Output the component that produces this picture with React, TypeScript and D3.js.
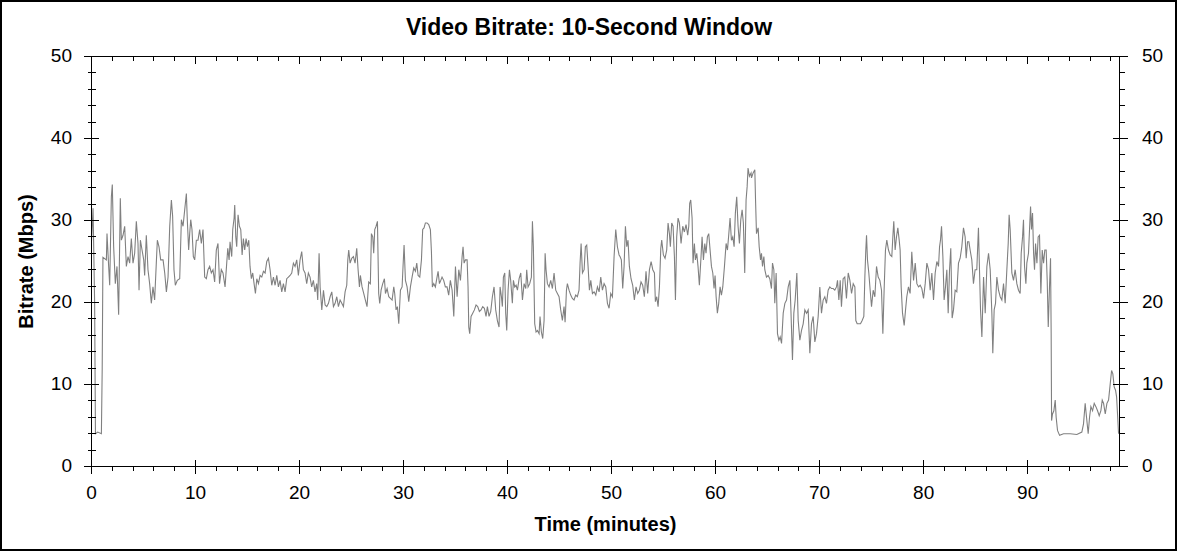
import React from 'react'
import * as d3 from 'd3'

// bitrate samples [minute, Mbps] in sections
const openingSection: [number, number][] = [
  [0, 27.5], [0.15, 31.5], [0.3, 20], [0.38, 4], [0.6, 4.2], [0.95, 4], [1.03, 12], [1.1, 25.5],
  [1.43, 25.2], [1.49, 28.4], [1.65, 24.4], [1.75, 22.1], [1.91, 32.9], [2.0, 34.4], [2.13, 26.8],
  [2.29, 22.3], [2.45, 24.4], [2.61, 18.5], [2.77, 32.7], [2.87, 27.6], [3.03, 28.2], [3.19, 29.3],
  [3.35, 24.4], [3.51, 25.6], [3.67, 24.8], [3.83, 27.8], [3.99, 24.8], [4.15, 26], [4.31, 29.9],
  [4.47, 27.2], [4.57, 21.5], [4.7, 27.6], [4.86, 26.4], [5.02, 25.2], [5.11, 23.3], [5.27, 28.2],
  [5.43, 24], [5.59, 22.3], [5.75, 19.9], [5.91, 21.9], [6.07, 20.3], [6.23, 24.8], [6.33, 27.6],
  [6.49, 26.8], [6.65, 25.2], [6.88, 25.2], [7.04, 23.6], [7.2, 21.3], [7.36, 23.1], [7.52, 29.3],
  [7.68, 32.5], [7.8, 30.5], [7.93, 24], [8.06, 22.1], [8.25, 22.7], [8.48, 22.9], [8.64, 30.1],
  [8.8, 29.3], [8.96, 31.3], [9.12, 33.3], [9.21, 30.1], [9.34, 26.4], [9.44, 28.4], [9.54, 30.1],
  [9.66, 28.9], [9.79, 25.6], [9.92, 25.2], [10.08, 27.6], [10.24, 27.6], [10.4, 28.9], [10.56, 27.2],
  [10.72, 28.9], [10.88, 23.1], [11.04, 22.9], [11.2, 24], [11.36, 24.4], [11.52, 23.6], [11.68, 24],
  [11.84, 22.5], [12.0, 26.4], [12.16, 27.2], [12.31, 22.3], [12.48, 24], [12.64, 23.6],
]

const section13to25: [number, number][] = [
  [12.84, 21.9], [13.0, 24.8], [13.1, 26.6], [13.23, 25.2], [13.32, 27.4], [13.48, 25.6], [13.58, 28.9],
  [13.71, 30.3], [13.77, 31.9], [13.87, 28], [13.96, 26.8], [14.09, 30.7], [14.22, 29.3], [14.35, 28.9],
  [14.48, 25.8], [14.6, 27.8], [14.73, 26.4], [14.86, 27.8], [14.99, 26.8], [15.12, 27.6], [15.24, 24.4],
  [15.37, 22.9], [15.5, 23.6], [15.63, 22.3], [15.76, 21.1], [15.89, 22.9], [16.05, 22.3], [16.21, 23.3],
  [16.37, 23.1], [16.53, 23.8], [16.69, 23.6], [16.85, 25], [17.01, 25.4], [17.17, 24], [17.33, 22.1],
  [17.49, 23.1], [17.65, 22.1], [17.81, 23.3], [17.97, 21.9], [18.13, 22.7], [18.29, 21.3], [18.45, 22.3],
  [18.61, 21.3], [18.77, 22.9], [18.93, 23.1], [19.09, 23.3], [19.25, 23.6], [19.41, 24.8], [19.57, 24.4],
  [19.73, 25.2], [19.89, 23.3], [20.05, 25.2], [20.21, 26.2], [20.37, 24], [20.53, 23.6], [20.69, 22.3],
  [20.85, 23.6], [21.01, 23.1], [21.17, 21.9], [21.33, 22.7], [21.49, 21.3], [21.65, 22.3], [21.75, 20.3],
  [21.88, 26], [21.98, 21.9], [22.14, 19.1], [22.3, 21.5], [22.46, 19.7], [22.62, 19.5], [22.78, 19.9],
  [22.94, 20.7], [23.1, 21.3], [23.26, 19.5], [23.42, 19.9], [23.58, 20.7], [23.74, 19.5], [23.9, 20.3],
  [24.06, 19.9], [24.22, 19.5], [24.38, 21.3], [24.54, 22.1], [24.64, 25.2], [24.73, 26.4], [24.86, 24.8],
  [25.02, 25.4], [25.18, 25.6], [25.34, 24.8],
]

const section25to38: [number, number][] = [
  [25.5, 26.6], [25.63, 24], [25.76, 21.9], [25.85, 23.3], [26.01, 21.9], [26.17, 21.1], [26.33, 20.3],
  [26.49, 19.5], [26.65, 22.5], [26.81, 22.3], [26.91, 28.4], [27.04, 28], [27.13, 26], [27.23, 28.9],
  [27.36, 29.3], [27.49, 29.9], [27.61, 21.1], [27.71, 19.9], [27.84, 21.5], [28.0, 22.3], [28.16, 22.9],
  [28.26, 21.1], [28.42, 21.7], [28.58, 20.7], [28.74, 20.5], [28.9, 20.3], [29.06, 21.9], [29.15, 21.1],
  [29.28, 19.1], [29.41, 19.5], [29.54, 17.4], [29.7, 21.5], [29.86, 21.9], [29.95, 24.4], [30.05, 27],
  [30.18, 22.7], [30.34, 21.9], [30.5, 20.1], [30.66, 21.9], [30.82, 23.1], [30.98, 24.2], [31.14, 23.8],
  [31.27, 24.8], [31.4, 23.3], [31.56, 23.1], [31.72, 25.2], [31.84, 28.9], [31.97, 29.1], [32.1, 29.7],
  [32.26, 29.7], [32.42, 29.5], [32.58, 28.9], [32.68, 26.2], [32.77, 21.9], [32.9, 22.3], [33.06, 21.9],
  [33.22, 23.1], [33.32, 23.8], [33.45, 22.3], [33.58, 22.7], [33.7, 23.1], [33.86, 22.7], [34.02, 21.9],
  [34.18, 21.9], [34.34, 20.9], [34.5, 22.7], [34.67, 21.5], [34.83, 18.3], [34.99, 24.4], [35.15, 20.7],
  [35.31, 24], [35.47, 22.7], [35.63, 25.6], [35.72, 26.8], [35.82, 24.8], [35.95, 25.2], [36.11, 25.2],
  [36.2, 21.9], [36.27, 17], [36.36, 16.2], [36.49, 18.3], [36.65, 18.7], [36.81, 19.1], [36.97, 19.7],
  [37.13, 19.5], [37.29, 18.9], [37.45, 19.1], [37.61, 19.5], [37.77, 19.3], [37.93, 18.3],
]

const section38to51: [number, number][] = [
  [38.06, 19.5], [38.22, 18.3], [38.38, 18.9], [38.54, 20.7], [38.7, 21.9], [38.86, 19.1], [39.02, 17.8],
  [39.18, 17], [39.28, 21.9], [39.41, 20.7], [39.5, 19.5], [39.6, 23.1], [39.73, 23.6], [39.82, 18.7],
  [39.92, 16.6], [40.05, 21.5], [40.18, 24], [40.3, 22.7], [40.46, 19.9], [40.56, 22.7], [40.69, 21.9],
  [40.82, 22.1], [40.95, 21.5], [41.11, 22.9], [41.27, 23.6], [41.43, 20.3], [41.59, 22.3], [41.75, 21.7],
  [41.84, 24], [41.97, 21.9], [42.13, 22.3], [42.29, 23.1], [42.39, 29.9], [42.48, 26.8], [42.61, 17.4],
  [42.74, 16.4], [42.87, 16.6], [43.03, 16.2], [43.12, 18.3], [43.25, 16.4], [43.38, 15.6], [43.51, 17.8],
  [43.61, 26], [43.7, 24], [43.83, 22.3], [43.99, 21.9], [44.15, 22.7], [44.31, 21.7], [44.47, 23.6],
  [44.63, 21.5], [44.79, 21.1], [44.95, 20.7], [45.11, 19.1], [45.27, 17.8], [45.43, 19.5], [45.53, 17.6],
  [45.66, 21.5], [45.75, 22.3], [45.91, 21.5], [46.07, 20.9], [46.23, 20.5], [46.39, 20.3], [46.55, 20.9],
  [46.71, 20.7], [46.87, 21.5], [46.97, 24.8], [47.07, 27.2], [47.2, 23.6], [47.36, 24], [47.48, 26.8],
  [47.61, 27], [47.74, 24.4], [47.87, 21.5], [48.0, 22.7], [48.16, 21.1], [48.32, 21.3], [48.48, 20.9],
  [48.64, 21.9], [48.8, 21.3], [48.96, 23.1], [49.12, 21.5], [49.28, 22.3], [49.44, 21.9], [49.6, 19.9],
  [49.76, 19.3], [49.92, 21.1], [50.08, 20.7], [50.24, 25.6], [50.4, 28.9], [50.56, 26.8], [50.72, 25.8],
]

const section51to63: [number, number][] = [
  [50.81, 25.6], [50.94, 25.2], [51.07, 21.7], [51.2, 24.4], [51.33, 29.3], [51.46, 26.8], [51.58, 27.6],
  [51.71, 24.4], [51.87, 22.9], [52.03, 22.1], [52.19, 20.3], [52.35, 21.9], [52.51, 21.1], [52.67, 21.5],
  [52.83, 22.5], [52.99, 22.1], [53.15, 20.7], [53.31, 23.8], [53.47, 21.1], [53.64, 24], [53.8, 25],
  [53.96, 24], [54.12, 23.6], [54.21, 20.1], [54.34, 20.7], [54.47, 19.5], [54.6, 21.9], [54.73, 26.6],
  [54.82, 27.6], [54.98, 25.8], [55.14, 25.4], [55.3, 26.4], [55.43, 29.7], [55.56, 28.4], [55.65, 26.8],
  [55.78, 29.7], [55.91, 29.3], [56.04, 25.6], [56.14, 20.3], [56.26, 28], [56.39, 30.3], [56.52, 29.7],
  [56.68, 27.2], [56.84, 29.3], [57.0, 28.6], [57.16, 29.5], [57.32, 28.2], [57.42, 29.3], [57.51, 32.1],
  [57.61, 32.5], [57.74, 30.3], [57.83, 24.8], [57.96, 27.2], [58.06, 25.2], [58.19, 26], [58.31, 24.4],
  [58.44, 22.1], [58.6, 25.6], [58.7, 28], [58.83, 25.2], [58.96, 27.2], [59.08, 26], [59.21, 28],
  [59.34, 28.4], [59.47, 26.4], [59.6, 24.4], [59.73, 23.6], [59.85, 21.7], [59.95, 23.3], [60.05, 20.7],
  [60.17, 18.7], [60.3, 19.9], [60.43, 21.9], [60.56, 20.9], [60.69, 21.9], [60.85, 24.4], [61.01, 27.2],
  [61.14, 26.4], [61.26, 28.2], [61.39, 30.3], [61.52, 27.6], [61.65, 28], [61.78, 26.8], [61.9, 30.9],
  [62.03, 32.9], [62.16, 29.3], [62.29, 27.2], [62.42, 30.1], [62.55, 31.3], [62.67, 29.7], [62.8, 23.6],
  [62.93, 32.5], [63.03, 34.1], [63.12, 36.4], [63.25, 35.4], [63.41, 35.8],
]

const section63to76: [number, number][] = [
  [63.45, 35.2], [63.61, 35.8], [63.77, 36.2], [63.84, 32.5], [63.93, 28.4], [64.09, 29.1], [64.19, 26.8],
  [64.32, 25.2], [64.41, 26], [64.51, 24.4], [64.64, 25.6], [64.73, 24], [64.89, 23.1], [65.05, 23.3],
  [65.21, 22.9], [65.37, 21.7], [65.47, 24.8], [65.6, 24], [65.69, 19.9], [65.82, 23.6], [65.95, 16.2],
  [66.08, 15.4], [66.21, 15.8], [66.34, 15], [66.5, 18.7], [66.66, 19.9], [66.82, 20.3], [66.98, 21.9],
  [67.14, 22.7], [67.23, 19.5], [67.39, 13], [67.52, 18.7], [67.65, 20.3], [67.81, 23.6], [67.94, 17.8],
  [68.1, 15.4], [68.26, 16.6], [68.42, 17.4], [68.58, 19.1], [68.74, 18.7], [68.9, 19.1], [69.06, 13.8],
  [69.22, 17.4], [69.38, 18.3], [69.54, 15.2], [69.7, 16.2], [69.86, 18.3], [70.02, 21.9], [70.18, 18.7],
  [70.34, 20.3], [70.5, 20.7], [70.66, 19.9], [70.82, 21.5], [70.98, 21.9], [71.14, 21.7], [71.3, 21.7],
  [71.46, 21.5], [71.62, 21.9], [71.72, 22.7], [71.85, 20.3], [71.98, 22.7], [72.1, 19.5], [72.26, 22.9],
  [72.42, 23.1], [72.58, 20.5], [72.75, 23.6], [72.91, 22.7], [73.07, 21.1], [73.23, 22.3], [73.39, 21.9],
  [73.48, 17.8], [73.61, 17.4], [73.77, 17.4], [73.93, 17.4], [74.09, 17.8], [74.25, 18.3], [74.35, 23.1],
  [74.44, 26.4], [74.51, 28.2], [74.6, 25.2], [74.73, 23.6], [74.86, 21.5], [74.99, 19.5], [75.15, 21.5],
  [75.31, 20.7], [75.47, 24.4], [75.63, 23.1], [75.79, 22.7], [75.95, 21.5], [76.08, 16.2],
]

const section76to89: [number, number][] = [
  [76.2, 21.5], [76.33, 26.4], [76.46, 27.6], [76.62, 26.4], [76.78, 25.8], [76.94, 25.6], [77.04, 28],
  [77.13, 29.9], [77.26, 26.4], [77.39, 28], [77.52, 29.1], [77.65, 27.6], [77.74, 26.4], [77.84, 21.9],
  [77.97, 18.7], [78.13, 17.2], [78.26, 19.1], [78.38, 20.7], [78.54, 21.9], [78.7, 21.1], [78.86, 26.2],
  [79.03, 22.7], [79.19, 24.8], [79.35, 22.3], [79.51, 21.9], [79.67, 22.1], [79.83, 21.7], [79.99, 20.5],
  [80.15, 22.3], [80.31, 24.8], [80.47, 24], [80.63, 21.5], [80.79, 23.6], [80.95, 20.3], [81.11, 23.6],
  [81.27, 25], [81.43, 24.4], [81.53, 26.8], [81.62, 27.6], [81.72, 29.3], [81.85, 25.6], [81.97, 20.3],
  [82.1, 21.9], [82.23, 24], [82.36, 18.7], [82.49, 24], [82.61, 26.6], [82.74, 18.1], [82.87, 19.1],
  [83.03, 21.5], [83.19, 21.3], [83.35, 24.8], [83.51, 25.4], [83.67, 26.8], [83.83, 29.1], [83.99, 28],
  [84.09, 25.4], [84.22, 27.4], [84.35, 27.4], [84.47, 26.4], [84.63, 25.2], [84.79, 22.3], [84.95, 24],
  [85.11, 24], [85.27, 29.1], [85.37, 24], [85.47, 19.1], [85.6, 15.8], [85.76, 23.1], [85.92, 18.7],
  [86.08, 24.4], [86.24, 26], [86.4, 24], [86.56, 18.7], [86.65, 13.8], [86.78, 19.1], [86.91, 19.9],
  [87.04, 23.1], [87.2, 21.5], [87.36, 20.7], [87.52, 20.3], [87.68, 22.3], [87.84, 19.9], [88.0, 24],
  [88.13, 27.2], [88.22, 30.7], [88.32, 28.9], [88.48, 23.6], [88.64, 22.7], [88.8, 24],
]

const closingSection: [number, number][] = [
  [88.96, 22.3], [89.12, 21.5], [89.28, 21.1], [89.38, 26], [89.51, 28], [89.6, 30.1], [89.7, 24.4],
  [89.83, 22.3], [89.92, 24.8], [90.08, 26], [90.18, 28.9], [90.28, 31.7], [90.37, 28.9], [90.47, 30.9],
  [90.57, 26], [90.66, 24], [90.76, 27.2], [90.89, 24.8], [91.01, 28], [91.14, 28.2], [91.27, 21.1],
  [91.4, 26.4], [91.53, 24.8], [91.65, 26.4], [91.78, 26.4], [91.88, 22.7], [91.98, 17], [92.1, 21.9],
  [92.2, 25.4], [92.26, 16.2], [92.3, 5.6], [92.39, 6.4], [92.52, 6.8], [92.65, 8.1], [92.74, 6],
  [92.87, 4.4], [93.07, 3.8], [93.45, 4], [94.09, 4], [94.73, 3.9], [95.21, 4.2], [95.37, 5.2],
  [95.53, 7.7], [95.66, 6], [95.82, 4], [95.95, 6], [96.08, 7.3], [96.24, 6.8], [96.4, 7.7], [96.56, 7.3],
  [96.72, 6.8], [96.88, 6.2], [97.04, 6.8], [97.17, 8.1], [97.3, 7.7], [97.46, 6.4], [97.62, 7.7],
  [97.78, 8.1], [97.94, 10.1], [98.07, 11.7], [98.19, 11.3], [98.32, 9.7], [98.45, 9.3], [98.55, 8.5],
  [98.64, 6.4], [98.74, 4],
]

const durationMinutes = 98.83
const xMajorTicks = [0, 10, 20, 30, 40, 50, 60, 70, 80, 90]
const yMajorTicks = [0, 10, 20, 30, 40, 50]

const W = 1178
const H = 552
const FONT = "'Liberation Sans', Arial, sans-serif"

export default function App() {
  const samples = [
    ...openingSection, ...section13to25, ...section25to38, ...section38to51,
    ...section51to63, ...section63to76, ...section76to89, ...closingSection,
  ]

  const x = d3.scaleLinear().domain([0, durationMinutes]).range([91.5, 1119.5])
  const y = d3.scaleLinear().domain([0, 50]).range([466.5, 56.5])

  const line = d3.line<[number, number]>()
    .x(d => x(d[0]))
    .y(d => y(d[1]))

  const xMinor = d3.range(0, durationMinutes, 2).filter(v => v % 10 !== 0)
  const yMinor = d3.range(0, 50, 2).filter(v => v % 10 !== 0)

  const [xl, xr] = x.range()
  const [yb, yt] = y.range()

  return (
    <svg width={W} height={H} style={{ position: 'absolute', left: 0, top: 0, background: '#fff' }}
      fontFamily={FONT}>
      <rect x={1} y={1} width={W - 3} height={H - 3} fill="#fff" stroke="#000" strokeWidth={2} />

      <text x={589} y={35} textAnchor="middle" fontSize={23} fontWeight="bold">
        Video Bitrate: 10-Second Window
      </text>

      <path d={line(samples) || ''} fill="none" stroke="#808080" strokeWidth={1.1} />

      <g stroke="#000" strokeWidth={1} shapeRendering="crispEdges">
        {/* frame */}
        <line x1={xl} x2={xr} y1={yb} y2={yb} />
        <line x1={xl} x2={xr} y1={yt} y2={yt} />
        <line x1={xl} x2={xl} y1={yt} y2={yb} />
        <line x1={xr} x2={xr} y1={yt} y2={yb} />

        {/* bottom and top ticks */}
        {xMajorTicks.map(v => (
          <g key={'xM' + v}>
            <line x1={x(v)} x2={x(v)} y1={yb - 7} y2={yb + 7} />
            <line x1={x(v)} x2={x(v)} y1={yt} y2={yt + 7} />
          </g>
        ))}
        {xMinor.map(v => (
          <g key={'xm' + v}>
            <line x1={x(v)} x2={x(v)} y1={yb} y2={yb + 4} />
            <line x1={x(v)} x2={x(v)} y1={yt} y2={yt + 4} />
          </g>
        ))}

        {/* left and right ticks */}
        {yMajorTicks.map(v => (
          <g key={'yM' + v}>
            <line x1={xl - 8} x2={xl + 7} y1={y(v)} y2={y(v)} />
            <line x1={xr - 7} x2={xr + 8} y1={y(v)} y2={y(v)} />
          </g>
        ))}
        {yMinor.map(v => (
          <g key={'ym' + v}>
            <line x1={xl - 4} x2={xl + 4} y1={y(v)} y2={y(v)} />
            <line x1={xr} x2={xr + 5} y1={y(v)} y2={y(v)} />
          </g>
        ))}
      </g>

      <g fontSize={19} fill="#000">
        {xMajorTicks.map(v => (
          <text key={'xt' + v} x={x(v)} y={499} textAnchor="middle">{v}</text>
        ))}
        {yMajorTicks.map(v => (
          <text key={'ytl' + v} x={72} y={y(v) + 5} textAnchor="end">{v}</text>
        ))}
        {yMajorTicks.map(v => (
          <text key={'ytr' + v} x={1142} y={y(v) + 5} textAnchor="start">{v}</text>
        ))}
      </g>

      <text x={(xl + xr) / 2} y={531} textAnchor="middle" fontSize={20} fontWeight="bold">
        Time (minutes)
      </text>
      <text transform={`translate(33,${(yb + yt) / 2}) rotate(-90)`} textAnchor="middle"
        fontSize={20} fontWeight="bold">
        Bitrate (Mbps)
      </text>
    </svg>
  )
}
